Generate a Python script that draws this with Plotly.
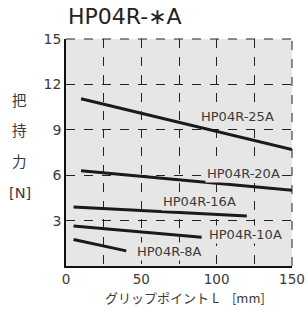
import plotly.graph_objects as go

series_names = ["HP04R-25A", "HP04R-20A", "HP04R-16A", "HP04R-10A", "HP04R-8A"]
series_x = [[10, 150], [10, 150], [5, 120], [5, 90], [5, 40]]
series_y = [[11.05, 7.7], [6.3, 5.0], [3.9, 3.3], [2.65, 1.9], [1.75, 1.0]]
label_x = [114, 117.5, 88.7, 119.3, 68.5]
label_y = [9.9, 6.12, 4.25, 2.05, 0.95]

x_tickvals = [0, 25, 50, 75, 100, 125, 150]
x_ticktext = ["0", "", "50", "", "100", "", "150"]
y_tickvals = [0, 3, 6, 9, 12, 15]
y_ticktext = ["", "3", "6", "9", "12", "15"]

FONT = "DejaVu Sans, Noto Sans CJK JP"
CJK = "Noto Sans CJK JP"
BG = "#e6e6e6"
TXT = "#3a3a3a"

fig = go.Figure()
for name, xs, ys in zip(series_names, series_x, series_y):
    fig.add_trace(go.Scatter(x=xs, y=ys, mode="lines", name=name,
                             line=dict(color="#1a1a1a", width=3), showlegend=False))

for name, lx, ly in zip(series_names, label_x, label_y):
    fig.add_annotation(x=lx, y=ly, text=name, showarrow=False,
                       font=dict(family=FONT, size=13, color=TXT),
                       bgcolor=BG, borderpad=1)

# top and right dashed borders
fig.add_shape(type="line", xref="paper", yref="paper", x0=0, x1=1, y0=1, y1=1,
              line=dict(color="#222", width=1, dash="dash"))
fig.add_shape(type="line", xref="paper", yref="paper", x0=1, x1=1, y0=0, y1=1,
              line=dict(color="#222", width=1, dash="dash"))

# title
fig.add_annotation(xref="paper", yref="paper", x=0, y=1, yshift=23, xanchor="left",
                   yanchor="middle", text="HP04R-∗A", showarrow=False,
                   font=dict(family=FONT, size=22, color="#222"))

# y-axis title stacked
for t, py in zip(["把", "持", "力", "[N]"], [101, 131, 162, 193]):
    fig.add_annotation(xref="paper", yref="paper", x=-0.205, xanchor="center",
                       y=(266 - py) / 227, yanchor="middle", text=t, showarrow=False,
                       font=dict(family=FONT, size=14.5, color=TXT))

# x-axis title
fig.add_annotation(xref="paper", yref="paper", x=(185 - 66) / 226, xanchor="center",
                   y=(266 - 297) / 227, yanchor="middle", text="グリップポイント L　[mm]",
                   showarrow=False, font=dict(family=CJK, size=13, color=TXT))

fig.update_layout(
    width=308, height=313,
    margin=dict(l=66, r=16, t=39, b=47),
    paper_bgcolor="white", plot_bgcolor=BG,
    font=dict(family=FONT, color=TXT),
    xaxis=dict(range=[0, 150], tickvals=x_tickvals, ticktext=x_ticktext,
               showgrid=True, gridcolor="#222", griddash="dash", gridwidth=1,
               zeroline=False, showline=True, linecolor="#111", linewidth=1.5,
               ticks="", ticklabelstandoff=0,
               tickfont=dict(size=13.5, color=TXT), automargin=False),
    yaxis=dict(range=[0, 15], tickvals=y_tickvals, ticktext=y_ticktext,
               showgrid=True, gridcolor="#222", griddash="dash", gridwidth=1,
               zeroline=False, showline=True, linecolor="#111", linewidth=1.5,
               ticks="", tickfont=dict(size=14, color=TXT), automargin=False),
)

fig.write_html("out.html", config={"displayModeBar": False},
               post_script="document.body.style.margin='0';document.body.style.overflow='hidden';")
